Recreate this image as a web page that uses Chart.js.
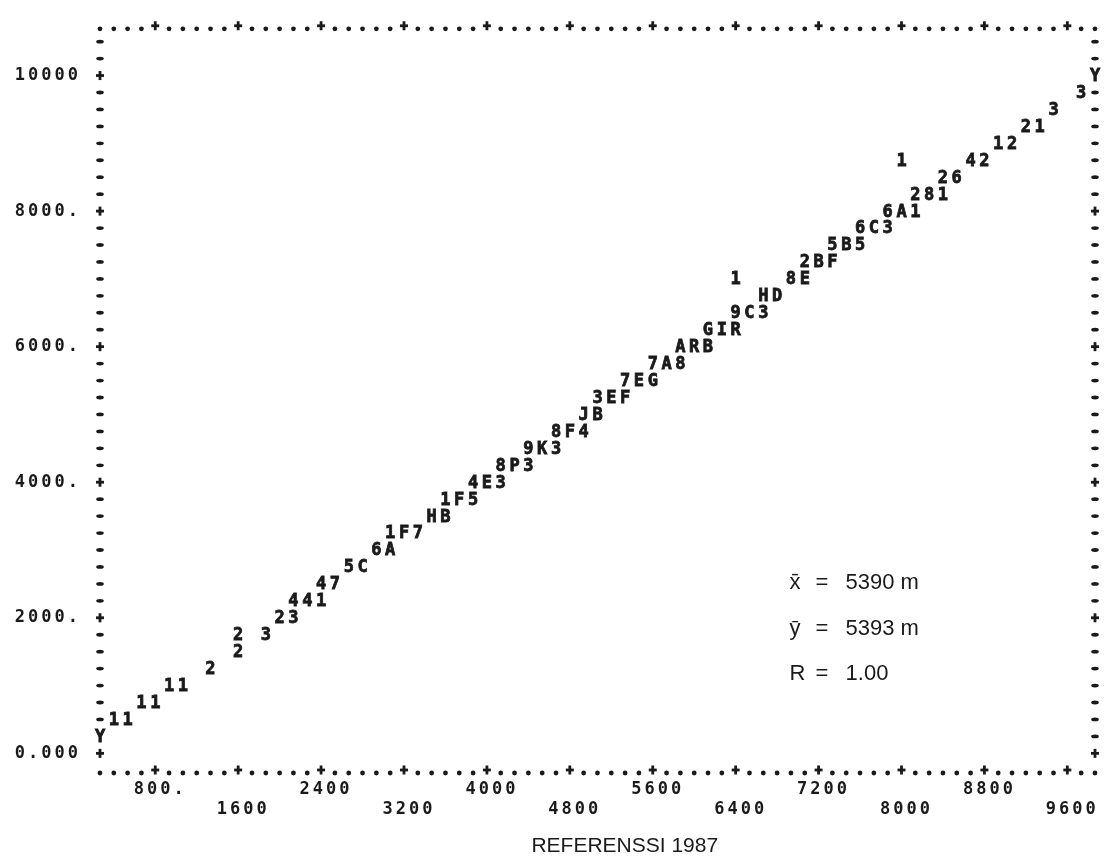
<!DOCTYPE html>
<html>
<head>
<meta charset="utf-8">
<script src="https://cdn.jsdelivr.net/npm/chart.js@4.4.0/dist/chart.umd.min.js"></script>
<style>
  html, body { margin: 0; background: #fff; }
  #wrap { width: 1120px; height: 857px; }
</style>
</head>
<body>
<div id="wrap"><canvas id="plot"></canvas></div>
<script>
// axis ranges as the line printer drew them
const xMin = 267, xMax = 9867;
const yMin = -290, yMax = 10690;

const xTicks = [800, 1600, 2400, 3200, 4000, 4800, 5600, 6400, 7200, 8000, 8800, 9600];
const xTickLabels = ['800.', '1600', '2400', '3200', '4000', '4800', '5600', '6400', '7200', '8000', '8800', '9600'];
const yTicks = [0, 2000, 4000, 6000, 8000, 10000];
const yTickLabels = ['0.000', '2000.', '4000.', '6000.', '8000.', '10000'];

// printed rows: y of the row, x of every character, and the characters (count codes)
const rowY = [500, 750, 1000, 1250, 1500, 1750, 2000, 2250, 2500, 2750,
  3000, 3250, 3500, 3750, 4000, 4250, 4500, 4750, 5000, 5250,
  5500, 5750, 6000, 6250, 6500, 6750, 7000, 7250, 7500, 7750,
  8000, 8250, 8500, 8750, 9000, 9250, 9500, 9750];
const rowX = [
  [400, 533], [667, 800], [933, 1067], [1333], [1600],
  [1600, 1867], [2000, 2133], [2133, 2267, 2400], [2400, 2533], [2667, 2800],
  [2933, 3067], [3067, 3200, 3333], [3467, 3600], [3600, 3733, 3867], [3867, 4000, 4133],
  [4133, 4267, 4400], [4400, 4533, 4667], [4667, 4800, 4933], [4933, 5067], [5067, 5200, 5333],
  [5333, 5467, 5600], [5600, 5733, 5867], [5867, 6000, 6133], [6133, 6267, 6400], [6400, 6533, 6667],
  [6667, 6800], [6400, 6933, 7067], [7067, 7200, 7333], [7333, 7467, 7600], [7600, 7733, 7867],
  [7867, 8000, 8133], [8133, 8267, 8400], [8400, 8533], [8000, 8667, 8800], [8933, 9067],
  [9200, 9333], [9467], [9733]
];
const rowSym = ['11', '11', '11', '2', '2', '23', '23', '441', '47', '5C',
  '6A', '1F7', 'HB', '1F5', '4E3', '8P3', '9K3', '8F4', 'JB', '3EF',
  '7EG', '7A8', 'ARB', 'GIR', '9C3', 'HD', '18E', '2BF', '5B5', '6C3',
  '6A1', '281', '26', '142', '12', '21', '3', '3'];

// regression line ends, printed as Y
const fitX = [267, 9867];
const fitY = [250, 10000];

const statLabels = ['x\u0304', 'y\u0304', 'R'];
const statValues = ['5390 m', '5393 m', '1.00'];

const ink = '#1a1a1a';
const printerFont = '"DejaVu Sans Mono", monospace';

const points = [];
rowY.forEach((y, r) => {
  rowX[r].forEach((x, i) => points.push({ x: x, y: y, s: rowSym[r][i] }));
});
const fitPoints = fitX.map((x, i) => ({ x: x, y: fitY[i], s: 'Y' }));

const printerPlot = {
  id: 'printerPlot',
  beforeDraw(chart) {
    chart.ctx.letterSpacing = '3px';
  },
  afterDraw(chart) {
    const { ctx, chartArea: a, scales: { x, y } } = chart;
    const opts = chart.options.plugins.printerPlot;
    ctx.save();
    ctx.letterSpacing = '0px';
    ctx.fillStyle = ink;
    ctx.strokeStyle = ink;

    // cells taken by the Y marks on the frame
    const taken = new Set(fitPoints.map(p => p.x + ':' + p.y));

    function plus(px, py) {
      ctx.fillRect(px - 4, py - 1.4, 8, 2.8);
      ctx.fillRect(px - 1.4, py - 4.5, 2.8, 9);
    }

    // top and bottom rows: a dot every printer column, + at each tick
    const colStep = 800 / 6;
    for (let k = -4; k <= 68; k++) {
      const v = 800 + k * colStep;
      const px = x.getPixelForValue(v);
      const isTick = (k % 6) === 0;
      [a.top, a.bottom].forEach(py => {
        if (isTick) {
          plus(px, py - 3);
        } else {
          ctx.beginPath();
          ctx.arc(px, py, 2.4, 0, Math.PI * 2);
          ctx.fill();
        }
      });
    }

    // left and right sides: a dash every printer line, + at each tick
    for (let v = 0; v <= 10500; v += 250) {
      const py = y.getPixelForValue(v);
      [[a.left, xMin], [a.right, xMax]].forEach(([px, xv]) => {
        if (taken.has(xv + ':' + v)) return;
        if (v % 2000 === 0) {
          plus(px, py);
        } else {
          ctx.beginPath();
          ctx.ellipse(px, py, 3.8, 1.9, 0, 0, Math.PI * 2);
          ctx.fill();
        }
      });
    }

    // printed characters of every dataset
    ctx.font = 'bold 17px ' + printerFont;
    ctx.textAlign = 'center';
    ctx.textBaseline = 'middle';
    ctx.lineWidth = 0.8;
    chart.data.datasets.forEach((ds, i) => {
      chart.getDatasetMeta(i).data.forEach((el, j) => {
        ctx.fillText(ds.data[j].s, el.x, el.y + 1);
        ctx.strokeText(ds.data[j].s, el.x, el.y + 1);
      });
    });

    // statistics box
    ctx.font = '22px "Liberation Sans", Arial, sans-serif';
    ctx.textAlign = 'left';
    const sx = x.getPixelForValue(opts.statsAt.x);
    opts.statsAt.y.forEach((yv, i) => {
      const py = y.getPixelForValue(yv);
      ctx.fillText(statLabels[i], sx, py);
      ctx.fillText('=', sx + 26, py);
      ctx.fillText(statValues[i], sx + 56, py);
    });

    // axis title
    ctx.font = '21px "Liberation Sans", Arial, sans-serif';
    ctx.textAlign = 'center';
    ctx.fillText(opts.title, x.getPixelForValue(opts.titleAt), a.bottom + 73);
    ctx.restore();
  }
};

const tickFont = { family: printerFont, weight: 'bold', size: 17, lineHeight: 1.15 };

new Chart(document.getElementById('plot'), {
  type: 'scatter',
  data: {
    datasets: [
      { label: 'KARTTA', data: points, pointRadius: 0, pointHoverRadius: 0 },
      { label: 'Y', data: fitPoints, pointRadius: 0, pointHoverRadius: 0 }
    ]
  },
  options: {
    responsive: true,
    maintainAspectRatio: false,
    animation: false,
    events: [],
    layout: { padding: { top: 20, right: 25, left: 0, bottom: 0 } },
    plugins: {
      legend: { display: false },
      tooltip: { enabled: false },
      printerPlot: {
        statsAt: { x: 6920, y: [2520, 1840, 1170] },
        title: 'REFERENSSI 1987',
        titleAt: 5330
      }
    },
    scales: {
      x: {
        type: 'linear',
        min: xMin,
        max: xMax,
        grid: { display: false, drawTicks: false },
        border: { display: false },
        afterBuildTicks: scale => { scale.ticks = xTicks.map(v => ({ value: v })); },
        afterFit: scale => { scale.height = 84; },
        ticks: {
          autoSkip: false,
          maxRotation: 0,
          padding: 7,
          labelOffset: 5,
          color: ink,
          font: tickFont,
          callback: value => {
            const i = xTicks.indexOf(value);
            return i % 2 === 0 ? [xTickLabels[i], ''] : ['', xTickLabels[i]];
          }
        }
      },
      y: {
        type: 'linear',
        min: yMin,
        max: yMax,
        grid: { display: false, drawTicks: false },
        border: { display: false },
        afterBuildTicks: scale => { scale.ticks = yTicks.map(v => ({ value: v })); },
        afterFit: scale => { scale.width = 100; },
        ticks: {
          padding: 19,
          color: ink,
          font: tickFont,
          callback: value => yTickLabels[yTicks.indexOf(value)]
        }
      }
    }
  },
  plugins: [printerPlot]
});
</script>
</body>
</html>
